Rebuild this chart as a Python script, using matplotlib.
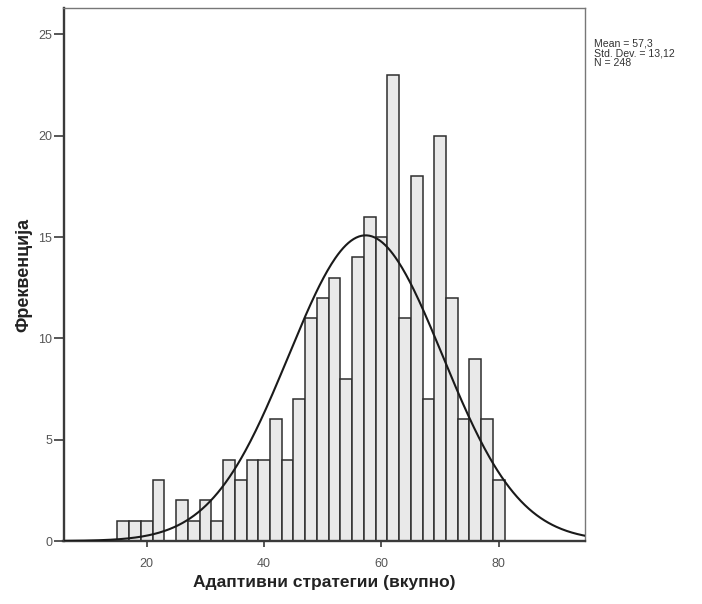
import matplotlib
matplotlib.use("Agg")
import matplotlib.pyplot as plt
import numpy as np

# ---- data ----
bin_starts = [15, 17, 19, 21, 23, 25, 27, 29, 31, 33, 35, 37, 39, 41, 43, 45, 47,
              49, 51, 53, 55, 57, 59, 61, 63, 65, 67, 69, 71, 73, 75, 77, 79]
counts = [1, 1, 1, 3, 0, 2, 1, 2, 1, 4, 3, 4, 4, 6, 4, 7, 11,
          12, 13, 8, 14, 16, 15, 23, 11, 18, 7, 20, 12, 6, 9, 6, 3]
bin_width = 2
mean_val = 57.3
std_val = 13.12
n_val = 248
x_ticks = [20, 40, 60, 80]
y_ticks = [0, 5, 10, 15, 20, 25]
x_label = "Адаптивни стратегии (вкупно)"
y_label = "Фреквенција"
stats_lines = ["Mean = 57,3", "Std. Dev. = 13,12", "N = 248"]

plt.rcParams['font.family'] = ['Liberation Sans', 'DejaVu Sans']

fig = plt.figure(figsize=(7.02, 6.04), dpi=100)
ax = fig.add_axes([63.5 / 702, (604 - 541) / 604, (585 - 63.5) / 702, (541 - 8) / 604])

ax.bar(bin_starts, counts, width=bin_width, align='edge',
       color='#e9e9e9', edgecolor='#2e2e2e', linewidth=1.1, zorder=2)

xlo, xhi = 5.8, 94.7
xs = np.linspace(xlo, xhi, 400)
ys = n_val * bin_width / (std_val * np.sqrt(2 * np.pi)) * np.exp(-0.5 * ((xs - mean_val) / std_val) ** 2)
ax.plot(xs, ys, color='#1a1a1a', linewidth=1.5, zorder=3)

ax.set_xlim(xlo, xhi)
ax.set_ylim(0, 26.3)
ax.set_xticks(x_ticks)
ax.set_xticklabels([str(t) for t in x_ticks])
ax.set_yticks(y_ticks)
ax.set_yticklabels([str(t) for t in y_ticks])

for side in ['left', 'bottom']:
    ax.spines[side].set_linewidth(1.7)
    ax.spines[side].set_color('#3a3a3a')
for side in ['top', 'right']:
    ax.spines[side].set_linewidth(1.0)
    ax.spines[side].set_color('#777777')

ax.tick_params(axis='y', direction='out', length=7, width=1.2, color='#3a3a3a',
               labelsize=9, labelcolor='#555555', pad=1)
ax.tick_params(axis='x', direction='out', length=4, width=1.2, color='#3a3a3a',
               labelsize=9, labelcolor='#555555', pad=8)

ax.set_xlabel(x_label, fontsize=12.5, fontweight='bold', color='#222222')
ax.set_ylabel(y_label, fontsize=13, fontweight='bold', color='#222222')
ax.xaxis.set_label_coords(0.5, (541 - 582) / 533, transform=ax.transAxes)
ax.yaxis.set_label_coords((24 - 63.5) / 521.5, 0.5, transform=ax.transAxes)
ax.xaxis.label.set_va('center')
ax.yaxis.label.set_va('center')

for i, line in enumerate(stats_lines):
    fig.text(594 / 702, 1 - (38 + i * 10) / 604, line, fontsize=7.6,
             color='#333333', ha='left', va='top', linespacing=1.0)

fig.savefig("out.png", dpi=100)
